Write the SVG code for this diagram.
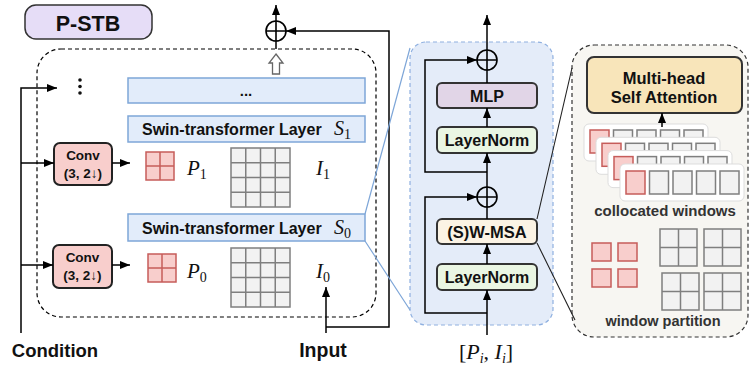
<svg xmlns="http://www.w3.org/2000/svg" width="749" height="369" viewBox="0 0 749 369">
<defs>
<marker id="ah" markerUnits="userSpaceOnUse" markerWidth="10" markerHeight="8" refX="10" refY="4" orient="auto"><path d="M0,0 L10,4 L0,8 z" fill="#000"/></marker>
<style>
.t{font-family:"Liberation Sans",Arial,sans-serif;font-weight:bold;fill:#111;}
.m{font-family:"Liberation Serif","Times New Roman",serif;fill:#111;}
.ln{stroke:#000;stroke-width:1.5;fill:none;}
.swin{fill:#e2ecfa;stroke:#7ea6d8;stroke-width:1.5;}
.conv{fill:#f8cecc;stroke:#222;stroke-width:2;}
.red{fill:#f8cecc;stroke:#c65c5a;stroke-width:1.5;}
.gr{fill:#f2f2f2;stroke:#7f7f7f;stroke-width:1.5;}
.plus{fill:none;stroke:#000;stroke-width:1.6;}
.proj{stroke:#7ea6d8;stroke-width:1.2;fill:none;}
</style>
</defs>
<rect width="749" height="369" fill="#fff"/>

<!-- Left panel -->
<g id="pstb-label">
<rect x="25" y="5" width="127" height="34" rx="11" fill="#e6ddf7" stroke="#333" stroke-width="1.5"/>
<text class="t" x="88" y="30.5" font-size="21.5" text-anchor="middle">P-STB</text>
</g>
<g id="pstb-box">
<rect x="37" y="49" width="339" height="268" rx="24" fill="none" stroke="#000" stroke-width="1.2" stroke-dasharray="4 3"/>
</g>

<g id="layer-dots">
<rect class="swin" x="128" y="78" width="237" height="25"/>
<text class="t" x="246" y="96" font-size="15" text-anchor="middle">...</text>
</g>
<g id="layer-s1">
<rect class="swin" x="128" y="116" width="237" height="26"/>
<text class="t" x="142" y="135" font-size="16">Swin-transformer Layer</text>
<text class="m" x="334" y="135" font-size="20" font-style="italic">S<tspan font-size="14" font-style="normal" dy="4">1</tspan></text>
</g>
<g id="layer-s0">
<rect class="swin" x="128" y="214" width="237" height="27"/>
<text class="t" x="142" y="233.5" font-size="16">Swin-transformer Layer</text>
<text class="m" x="334" y="233.5" font-size="20" font-style="italic">S<tspan font-size="14" font-style="normal" dy="4">0</tspan></text>
</g>

<g id="conv1">
<rect class="conv" x="54" y="143" width="58" height="42" rx="6"/>
<text class="t" x="83" y="160" font-size="13.5" text-anchor="middle">Conv</text>
<text class="t" x="83" y="178" font-size="13.5" text-anchor="middle">(3, 2↓)</text>
</g>
<g id="conv0">
<rect class="conv" x="53" y="245" width="59" height="43" rx="6"/>
<text class="t" x="82.5" y="262" font-size="13.5" text-anchor="middle">Conv</text>
<text class="t" x="82.5" y="280" font-size="13.5" text-anchor="middle">(3, 2↓)</text>
</g>

<g id="p1">
<rect class="red" x="146" y="152" width="28" height="28"/>
<line x1="160" y1="152" x2="160" y2="180" stroke="#c65c5a" stroke-width="1.5"/>
<line x1="146" y1="166" x2="174" y2="166" stroke="#c65c5a" stroke-width="1.5"/>
<text class="m" x="187" y="175" font-size="21" font-style="italic">P<tspan font-size="14" font-style="normal" dy="4">1</tspan></text>
</g>
<g id="p0">
<rect class="red" x="148" y="254" width="28" height="28"/>
<line x1="162" y1="254" x2="162" y2="282" stroke="#c65c5a" stroke-width="1.5"/>
<line x1="148" y1="268" x2="176" y2="268" stroke="#c65c5a" stroke-width="1.5"/>
<text class="m" x="187" y="278" font-size="21" font-style="italic">P<tspan font-size="14" font-style="normal" dy="4">0</tspan></text>
</g>

<g id="i1">
<rect class="gr" x="231" y="148" width="59" height="59"/>
<path d="M245.75,148V207M260.5,148V207M275.25,148V207M231,162.75H290M231,177.5H290M231,192.25H290" stroke="#7f7f7f" stroke-width="1.5"/>
<text class="m" x="316" y="175" font-size="21" font-style="italic">I<tspan font-size="14" font-style="normal" dy="4">1</tspan></text>
</g>
<g id="i0">
<rect class="gr" x="231" y="248" width="59" height="59"/>
<path d="M245.75,248V307M260.5,248V307M275.25,248V307M231,262.75H290M231,277.5H290M231,292.25H290" stroke="#7f7f7f" stroke-width="1.5"/>
<text class="m" x="316" y="278" font-size="21" font-style="italic">I<tspan font-size="14" font-style="normal" dy="4">0</tspan></text>
</g>

<g id="vdots">
<circle cx="80" cy="80" r="1.8" fill="#111"/>
<circle cx="80" cy="86.5" r="1.8" fill="#111"/>
<circle cx="80" cy="93" r="1.8" fill="#111"/>
</g>

<g id="plus-left">
<circle class="plus" cx="276" cy="31" r="10"/>
<path class="plus" d="M266,31H286M276,21V41"/>
</g>
<g id="hollow-arrow">
<polygon points="276,54 283,63 279.5,63 279.5,74 272.5,74 272.5,63 269,63" fill="#fff" stroke="#666" stroke-width="1.3"/>
</g>

<g id="labels">
<text class="t" x="55" y="357" font-size="18.5" text-anchor="middle">Condition</text>
<text class="t" x="323" y="357" font-size="19.5" text-anchor="middle">Input</text>
</g>

<!-- Middle panel -->
<g id="swin-block">
<rect x="410" y="42" width="143" height="283" rx="16" fill="#e4ecf9" stroke="#8fb0e0" stroke-width="1.2" stroke-dasharray="4 3"/>
</g>
<g id="mlp">
<rect x="437" y="83" width="100" height="25" rx="5" fill="#e1d5e7" stroke="#333" stroke-width="2"/>
<text class="t" x="487" y="101.5" font-size="16" text-anchor="middle">MLP</text>
</g>
<g id="ln-top">
<rect x="437" y="127" width="100" height="26" rx="5" fill="#eaf6e3" stroke="#333" stroke-width="2"/>
<text class="t" x="487" y="146" font-size="16" text-anchor="middle">LayerNorm</text>
</g>
<g id="wmsa">
<rect x="437" y="219" width="100" height="25" rx="5" fill="#fbf3e4" stroke="#333" stroke-width="2"/>
<text class="t" x="487" y="237.5" font-size="16.5" text-anchor="middle">(S)W-MSA</text>
</g>
<g id="ln-bot">
<rect x="437" y="264" width="100" height="26" rx="5" fill="#eaf6e3" stroke="#333" stroke-width="2"/>
<text class="t" x="487" y="283" font-size="16" text-anchor="middle">LayerNorm</text>
</g>
<g id="plus-top">
<circle class="plus" cx="487" cy="60" r="10"/>
<path class="plus" d="M477,60H497M487,50V70"/>
</g>
<g id="plus-mid">
<circle class="plus" cx="487" cy="197" r="10"/>
<path class="plus" d="M477,197H497M487,187V207"/>
</g>
<g id="pi-label">
<text class="m" x="486" y="359" font-size="22" text-anchor="middle">[<tspan font-style="italic">P</tspan><tspan font-size="14" font-style="italic" dy="4">i</tspan><tspan dy="-4">, </tspan><tspan font-style="italic">I</tspan><tspan font-size="14" font-style="italic" dy="4">i</tspan><tspan dy="-4">]</tspan></text>
</g>

<!-- Right panel -->
<g id="attn-panel">
<rect x="572" y="45" width="176" height="292" rx="22" fill="#f7f6f2" stroke="#333" stroke-width="1.2" stroke-dasharray="4 3"/>
</g>
<g id="mhsa">
<rect x="587" y="57" width="155" height="56" rx="7" fill="#f8e5ba" stroke="#333" stroke-width="2"/>
<text class="t" x="664" y="84" font-size="16.5" text-anchor="middle">Multi-head</text>
<text class="t" x="664" y="103" font-size="16.5" text-anchor="middle">Self Attention</text>
</g>
<g id="collocated">
<rect x="584" y="124" width="124" height="37" rx="5" fill="#fff" stroke="#ddd"/>
<rect class="red" x="590" y="130" width="19" height="23"/><rect class="gr" x="613.5" y="130" width="19" height="23"/><rect class="gr" x="637" y="130" width="19" height="23"/><rect class="gr" x="660.5" y="130" width="19" height="23"/><rect class="gr" x="684" y="130" width="19" height="23"/>
<rect x="596" y="137.3" width="124" height="37" rx="5" fill="#fff" stroke="#ddd"/>
<rect class="red" x="602" y="143.3" width="19" height="23"/><rect class="gr" x="625.5" y="143.3" width="19" height="23"/><rect class="gr" x="649" y="143.3" width="19" height="23"/><rect class="gr" x="672.5" y="143.3" width="19" height="23"/><rect class="gr" x="696" y="143.3" width="19" height="23"/>
<rect x="608" y="150.6" width="124" height="37" rx="5" fill="#fff" stroke="#ddd"/>
<rect class="red" x="614" y="156.6" width="19" height="23"/><rect class="gr" x="637.5" y="156.6" width="19" height="23"/><rect class="gr" x="661" y="156.6" width="19" height="23"/><rect class="gr" x="684.5" y="156.6" width="19" height="23"/><rect class="gr" x="708" y="156.6" width="19" height="23"/>
<rect x="620" y="164" width="124" height="37" rx="5" fill="#fff" stroke="#ddd"/>
<rect class="red" x="626" y="171" width="19" height="23"/><rect class="gr" x="649.5" y="171" width="19" height="23"/><rect class="gr" x="673" y="171" width="19" height="23"/><rect class="gr" x="696.5" y="171" width="19" height="23"/><rect class="gr" x="720" y="171" width="19" height="23"/>
<text x="665" y="216" font-size="15" text-anchor="middle" font-family="Liberation Sans, Arial, sans-serif" font-weight="bold" fill="#333">collocated windows</text>
</g>
<g id="partition">
<rect class="red" x="592" y="243" width="19" height="18"/>
<rect class="red" x="618" y="243" width="19" height="18"/>
<rect class="red" x="592" y="269" width="19" height="18"/>
<rect class="red" x="618" y="269" width="19" height="18"/>
<rect class="gr" x="660" y="229" width="37" height="37"/><path d="M678.5,229V266M660,247.5H697" stroke="#7f7f7f" stroke-width="1.5"/>
<rect class="gr" x="704" y="229" width="37" height="37"/><path d="M722.5,229V266M704,247.5H741" stroke="#7f7f7f" stroke-width="1.5"/>
<rect class="gr" x="662" y="273" width="37" height="37"/><path d="M680.5,273V310M662,291.5H699" stroke="#7f7f7f" stroke-width="1.5"/>
<rect class="gr" x="704" y="273" width="37" height="37"/><path d="M722.5,273V310M704,291.5H741" stroke="#7f7f7f" stroke-width="1.5"/>
<text x="663" y="326" font-size="14.5" text-anchor="middle" font-family="Liberation Sans, Arial, sans-serif" font-weight="bold" fill="#333">window partition</text>
</g>

<g id="connectors">
<path class="ln" d="M21,333V88H57" marker-end="url(#ah)"/>
<path class="ln" d="M21,163H54" marker-end="url(#ah)"/>
<path class="ln" d="M21,265H53" marker-end="url(#ah)"/>
<path class="ln" d="M112,163H130" marker-end="url(#ah)"/>
<path class="ln" d="M112,265H130" marker-end="url(#ah)"/>
<path class="ln" d="M326,333V287" marker-end="url(#ah)"/>
<path class="ln" d="M326,327H389V31H286" marker-end="url(#ah)"/>
<path class="ln" d="M276,49V41"/>
<path class="ln" d="M276,21V5" marker-end="url(#ah)"/>
<path class="proj" d="M365,214L410,48M365,241L410,310"/>
<path stroke="#222" stroke-width="1.1" fill="none" d="M537,219L572,68M537,243L575,320"/>
<path class="ln" d="M487,335V290" marker-end="url(#ah)"/>
<path class="ln" d="M487,264V244" marker-end="url(#ah)"/>
<path class="ln" d="M487,219V207"/>
<path class="ln" d="M487,187V153" marker-end="url(#ah)"/>
<path class="ln" d="M487,127V108" marker-end="url(#ah)"/>
<path class="ln" d="M487,83V70"/>
<path class="ln" d="M487,50V15" marker-end="url(#ah)"/>
<path class="ln" d="M487,313H425V197H477" marker-end="url(#ah)"/>
<path class="ln" d="M487,172H425V60H477" marker-end="url(#ah)"/>
<path class="ln" d="M662,127V113" marker-end="url(#ah)"/>
</g>
</svg>
